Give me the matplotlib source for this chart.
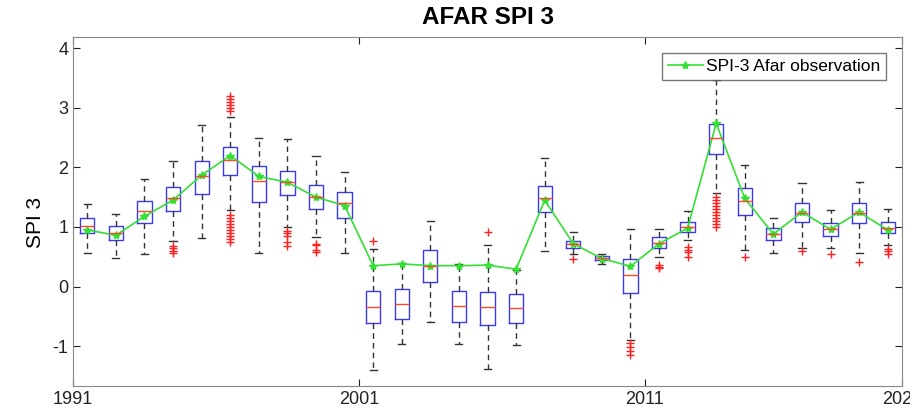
import numpy as np
import matplotlib
matplotlib.use('Agg')
from matplotlib import pyplot as plt
from matplotlib.transforms import Bbox

plt.rcParams['font.family'] = ['Liberation Sans', 'DejaVu Sans']
plt.rcParams['axes.unicode_minus'] = False

# boxplot statistics, one entry per box (29 boxes)
q1 = [0.90, 0.78, 1.07, 1.27, 1.55, 1.88, 1.42, 1.54, 1.31, 1.15,
      -0.62, -0.55, 0.07, -0.60, -0.65, -0.62, 1.25, 0.65, 0.44, -0.11,
      0.65, 0.92, 2.22, 1.20, 0.78, 1.08, 0.85, 1.07, 0.90]
med = [1.01, 0.90, 1.26, 1.49, 1.85, 2.13, 1.78, 1.75, 1.50, 1.40,
       -0.34, -0.29, 0.35, -0.32, -0.35, -0.36, 1.49, 0.71, 0.48, 0.20,
       0.73, 1.00, 2.49, 1.43, 0.88, 1.24, 0.96, 1.24, 0.98]
q3 = [1.15, 1.02, 1.43, 1.67, 2.10, 2.34, 2.03, 1.94, 1.70, 1.59,
      -0.08, -0.04, 0.62, -0.07, -0.09, -0.12, 1.68, 0.77, 0.52, 0.46,
      0.83, 1.08, 2.73, 1.65, 0.98, 1.41, 1.07, 1.41, 1.08]
wlo = [0.57, 0.48, 0.55, 0.77, 0.81, 1.28, 0.57, 1.00, 0.84, 0.57,
       -1.40, -0.97, -0.60, -0.97, -1.38, -0.98, 0.60, 0.55, 0.38, -0.90,
       0.50, 0.78, 1.57, 0.62, 0.56, 0.65, 0.65, 0.57, 0.70]
whi = [1.38, 1.22, 1.80, 2.10, 2.72, 2.85, 2.50, 2.48, 2.19, 1.93,
       0.63, 0.40, 1.10, 0.38, 0.70, 0.28, 2.16, 0.91, 0.55, 0.97,
       0.97, 1.26, 3.47, 2.04, 1.15, 1.73, 1.29, 1.75, 1.31]
fliers = [[], [], [], [0.68, 0.64, 0.60, 0.56],
          [], [3.20, 3.15, 3.10, 3.05, 3.00, 2.95, 1.20, 1.15, 1.10, 1.05, 1.00,
               0.95, 0.90, 0.85, 0.80, 0.75],
          [], [0.93, 0.90, 0.85, 0.75, 0.68], [0.72, 0.69, 0.62, 0.58], [],
          [0.77], [], [], [], [0.91], [],
          [], [0.46], [], [-0.95, -1.02, -1.08, -1.15],
          [0.36, 0.33, 0.31], [0.67, 0.62, 0.58, 0.50],
          [1.50, 1.45, 1.40, 1.35, 1.30, 1.25, 1.20, 1.15, 1.10, 1.05, 1.00],
          [0.50], [], [0.59], [0.55], [0.42], [0.63, 0.60, 0.55]]

# observed SPI-3
obs = [0.95, 0.86, 1.18, 1.45, 1.87, 2.20, 1.85, 1.75, 1.50, 1.36,
       0.35, 0.38, 0.35, 0.35, 0.36, 0.29, 1.45, 0.72, 0.47, 0.34,
       0.72, 0.98, 2.74, 1.48, 0.88, 1.25, 0.96, 1.25, 0.95]

tick_pos = [0.5, 10.5, 20.5, 29.5]
tick_lab = ['1991', '2001', '2011', '2021']

stats = []
for i in range(len(med)):
    stats.append({'med': med[i], 'q1': q1[i], 'q3': q3[i],
                  'whislo': wlo[i], 'whishi': whi[i], 'fliers': fliers[i]})

fig = plt.figure(figsize=(9.22, 4.19), dpi=100)
ax = fig.add_axes([0.0792, 0.0788, 0.8991, 0.8329])

pos = np.arange(1, len(med) + 1)
ax.bxp(stats, positions=pos, widths=0.5, showfliers=True,
       boxprops=dict(color='#3a3af0', lw=1.0),
       medianprops=dict(color='#ff4a2a', lw=1.0),
       whiskerprops=dict(color='#333333', lw=1.0, ls=(0, (4, 3))),
       capprops=dict(color='#333333', lw=1.0),
       capwidths=0.25,
       flierprops=dict(marker='+', markeredgecolor='#ff2020', markersize=6,
                       linestyle='none'))

ax.plot(pos, obs, color='#33e033', lw=1.2, marker='*', markersize=6,
        label='SPI-3 Afar observation')

ax.set_xlim(0.5, 29.5)
ax.set_ylim(-1.67, 4.19)
ax.set_xticks(tick_pos)
ax.set_xticklabels(tick_lab)
ax.set_yticks([-1, 0, 1, 2, 3, 4])
ax.tick_params(direction='in', top=True, right=True, labelsize=13,
               colors='#222222', length=5)
for s in ax.spines.values():
    s.set_color('#888888')

# the reference picture is cut just after "202"
last = ax.get_xticklabels()[-1]
last.set_clip_box(Bbox.from_extents(0, 0, 910, 419))
last.set_clip_on(True)

ax.set_ylabel('SPI 3', fontsize=15)
ax.yaxis.set_label_coords(-0.034, 0.47)
ax.set_title('AFAR SPI 3', fontsize=17.5, fontweight='bold', pad=9)

leg = ax.legend(loc='upper right', fontsize=12.5, fancybox=False,
                borderaxespad=0.9, handlelength=2.0, handletextpad=0.2,
                borderpad=0.35)
leg.get_frame().set_edgecolor('#555555')
leg.get_frame().set_linewidth(1.0)

fig.savefig('out.png', dpi=100)
